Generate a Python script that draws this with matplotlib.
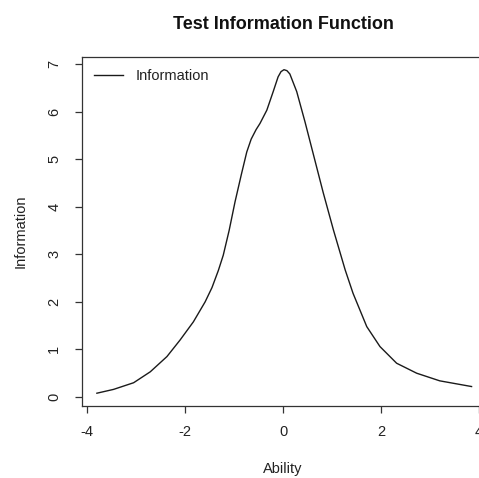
import matplotlib
matplotlib.use("Agg")
import matplotlib.pyplot as plt

plt.rcParams["font.family"] = ["Liberation Sans", "DejaVu Sans"]

# Test information curve sampled over the ability scale
ability = [-3.80, -3.46, -3.05, -2.71, -2.37, -2.10, -1.83, -1.59, -1.45, -1.32,
           -1.22, -1.10, -0.98, -0.85, -0.74, -0.65, -0.55, -0.47, -0.33, -0.20,
           -0.10, -0.04, 0.02, 0.08, 0.14, 0.28, 0.45, 0.65, 0.82, 1.03,
           1.27, 1.43, 1.71, 1.98, 2.32, 2.73, 3.20, 3.85]
information = [0.08, 0.16, 0.30, 0.53, 0.85, 1.20, 1.58, 2.00, 2.30, 2.66,
               2.98, 3.50, 4.10, 4.68, 5.15, 5.42, 5.62, 5.75, 6.03, 6.42,
               6.73, 6.84, 6.88, 6.86, 6.79, 6.42, 5.78, 4.98, 4.30, 3.51,
               2.67, 2.18, 1.48, 1.06, 0.71, 0.50, 0.34, 0.22]

x_ticks = [-4, -2, 0, 2, 4]
y_ticks = [0, 1, 2, 3, 4, 5, 6, 7]

W, H = 479, 478
fig = plt.figure(figsize=(W / 100, H / 100), dpi=100)
ax = fig.add_axes([82 / W, (H - 406) / H, 402 / W, 349 / H])

ink = "#1a1a1a"
ax.plot(ability, information, color=ink, lw=1.0, label="Information")

ax.set_xlim(-4.104, 4.104)
ax.set_ylim(-0.189, 7.147)
ax.set_xticks(x_ticks)
ax.set_yticks(y_ticks)
ax.set_xticklabels([str(v) for v in x_ticks])
ax.set_yticklabels([str(v) for v in y_ticks], rotation=90, va="center")

for s in ax.spines.values():
    s.set_color("#333333")
    s.set_linewidth(0.9)
ax.tick_params(direction="out", length=5, width=0.9, colors="#333333",
               labelsize=10.5, labelcolor="#222222")
ax.tick_params(axis="x", pad=9)
ax.tick_params(axis="y", pad=10)

ax.set_xlabel("Ability", fontsize=10.5, color="#222222", labelpad=16)
ax.set_ylabel("Information", fontsize=10.5, color="#222222", labelpad=14)
ax.set_title("Test Information Function", fontsize=13, fontweight="bold",
             color="#111111", pad=20)

ax.legend(loc="upper left", frameon=False, fontsize=10.5, handlelength=2.0,
          handletextpad=0.9, borderaxespad=0.4, labelcolor="#222222")

fig.savefig("out.png", dpi=100)
